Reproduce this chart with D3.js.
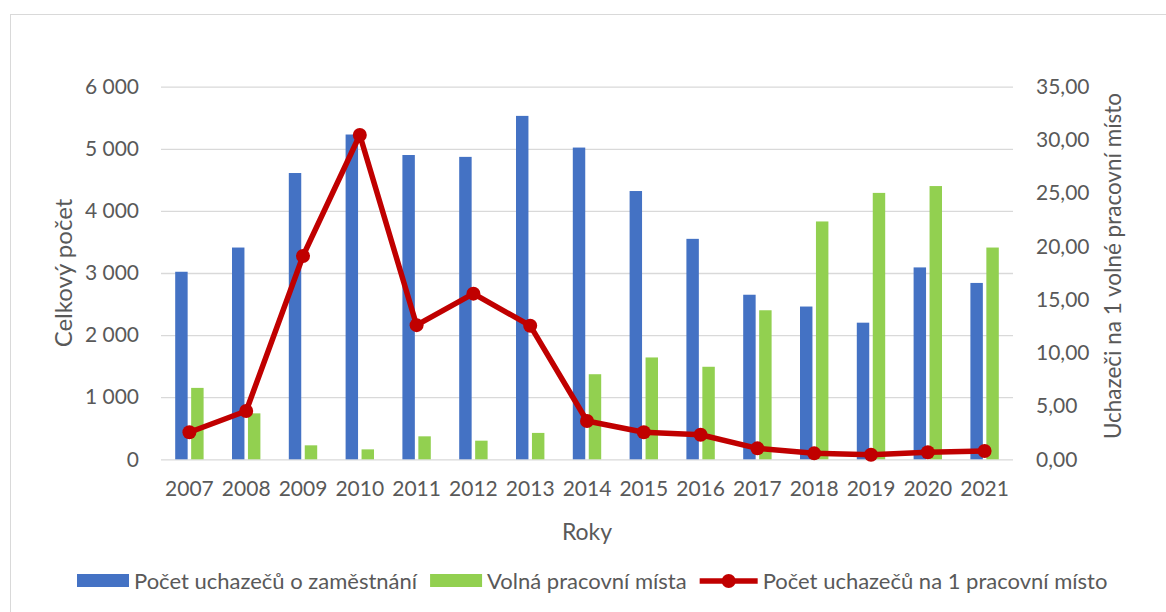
<!DOCTYPE html>
<html>
<head>
<meta charset="utf-8">
<script src="https://cdn.jsdelivr.net/npm/d3@7"></script>
<style>
  html, body { margin: 0; padding: 0; background: #fff; }
  svg { display: block; font-family: Lato, "Open Sans", sans-serif; }
  .tick text { fill: #595959; }
</style>
</head>
<body>
<svg id="chart" width="1166" height="612"></svg>
<script>
const years = ['2007', '2008', '2009', '2010', '2011', '2012', '2013', '2014', '2015', '2016', '2017', '2018', '2019', '2020', '2021'];
const applicants = [3020, 3410, 4610, 5230, 4900, 4870, 5530, 5020, 4320, 3550, 2650, 2460, 2200, 3090, 2840];
const vacancies = [1150, 740, 225, 160, 370, 300, 425, 1370, 1640, 1490, 2400, 3830, 4290, 4400, 3410];
const ratio = [2.54, 4.54, 19.1, 30.46, 12.6, 15.56, 12.55, 3.6, 2.54, 2.31, 1.03, 0.56, 0.43, 0.66, 0.78];
const leftTicks = [0, 1000, 2000, 3000, 4000, 5000, 6000];
const rightTicks = [0, 5, 10, 15, 20, 25, 30, 35];

const seriesNames = ['Počet uchazečů o zaměstnání', 'Volná pracovní místa', 'Počet uchazečů na 1 pracovní místo'];
const COLORS = { blue: '#4472C4', green: '#92D050', red: '#C00000', grid: '#D9D9D9', text: '#595959' };
const PLOT = { left: 161, right: 1013, top: 86.7, bottom: 459.3 };

const cz = d3.formatLocale({ decimal: ',', thousands: '\u00a0', grouping: [3], currency: ['', ''] });
const fmtLeft = cz.format(',');
const fmtRight = cz.format('.2f');

const svg = d3.select('#chart');

// outer chart border (runs off the right and bottom edge)
svg.append('rect')
  .attr('x', 10.5).attr('y', 14.5)
  .attr('width', 1170).attr('height', 620)
  .attr('fill', 'none').attr('stroke', COLORS.grid).attr('stroke-width', 1);

const x = d3.scaleBand().domain(years).range([PLOT.left, PLOT.right]).paddingInner(0).paddingOuter(0);
const bw = x.bandwidth();
const x1 = d3.scaleBand().domain(['a', 'v']).range([bw * 0.25, bw * 0.75]).paddingInner(0.22);
const yL = d3.scaleLinear().domain([0, 6000]).range([PLOT.bottom, PLOT.top]);
const yR = d3.scaleLinear().domain([0, 35]).range([PLOT.bottom, PLOT.top]);

// grid
svg.append('g')
  .attr('transform', `translate(${PLOT.left},0)`)
  .call(d3.axisLeft(yL).tickValues(leftTicks).tickSize(-(PLOT.right - PLOT.left)).tickFormat(() => ''))
  .call(g => g.select('.domain').remove())
  .selectAll('line').attr('stroke', COLORS.grid).attr('stroke-width', 1.3);

// left axis
svg.append('g')
  .attr('transform', `translate(${PLOT.left - 22},0)`)
  .call(d3.axisLeft(yL).tickValues(leftTicks).tickSize(0).tickPadding(0).tickFormat(fmtLeft))
  .call(g => g.select('.domain').remove())
  .selectAll('text').attr('font-size', 21).attr('font-family', 'Lato');

// right axis
svg.append('g')
  .attr('transform', `translate(${PLOT.right + 23},0)`)
  .call(d3.axisRight(yR).tickValues(rightTicks).tickSize(0).tickPadding(0).tickFormat(fmtRight))
  .call(g => g.select('.domain').remove())
  .selectAll('text').attr('font-size', 21).attr('font-family', 'Lato');

// bottom axis
svg.append('g')
  .attr('transform', `translate(0,${PLOT.bottom})`)
  .call(d3.axisBottom(x).tickSize(0).tickPadding(22))
  .call(g => g.select('.domain').remove())
  .selectAll('text').attr('font-size', 21).attr('font-family', 'Lato');

// bars
const rows = years.map((yr, i) => ({ yr, a: applicants[i], v: vacancies[i] }));
const groups = svg.append('g').selectAll('g').data(rows).join('g')
  .attr('transform', d => `translate(${x(d.yr)},0)`);
groups.append('rect')
  .attr('x', x1('a')).attr('width', x1.bandwidth())
  .attr('y', d => yL(d.a)).attr('height', d => yL(0) - yL(d.a))
  .attr('fill', COLORS.blue);
groups.append('rect')
  .attr('x', x1('v')).attr('width', x1.bandwidth())
  .attr('y', d => yL(d.v)).attr('height', d => yL(0) - yL(d.v))
  .attr('fill', COLORS.green);

// ratio line
const pts = years.map((yr, i) => ({ yr, r: ratio[i] }));
const line = d3.line().x(d => x(d.yr) + bw / 2).y(d => yR(d.r));
svg.append('path')
  .datum(pts)
  .attr('d', line)
  .attr('fill', 'none')
  .attr('stroke', COLORS.red)
  .attr('stroke-width', 5.5)
  .attr('stroke-linejoin', 'round');
svg.append('g').selectAll('circle').data(pts).join('circle')
  .attr('cx', d => x(d.yr) + bw / 2)
  .attr('cy', d => yR(d.r))
  .attr('r', 7)
  .attr('fill', COLORS.red);

// axis titles
svg.append('text')
  .attr('transform', 'translate(72,273) rotate(-90)')
  .attr('text-anchor', 'middle')
  .attr('font-size', 24).attr('fill', COLORS.text)
  .text('Celkový počet');
svg.append('text')
  .attr('transform', 'translate(1121,266) rotate(-90)')
  .attr('text-anchor', 'middle')
  .attr('font-size', 22.5).attr('fill', COLORS.text)
  .text('Uchazeči na 1 volné pracovní místo');
svg.append('text')
  .attr('x', 587).attr('y', 540)
  .attr('text-anchor', 'middle')
  .attr('font-size', 23).attr('fill', COLORS.text)
  .text('Roky');

// legend
const legend = svg.append('g').attr('transform', 'translate(0,581)');
const legendItems = [
  { name: seriesNames[0], kind: 'bar', color: COLORS.blue },
  { name: seriesNames[1], kind: 'bar', color: COLORS.green },
  { name: seriesNames[2], kind: 'line', color: COLORS.red },
];
let lx = 77;
legendItems.forEach(item => {
  const g = legend.append('g').attr('transform', `translate(${lx},0)`);
  if (item.kind === 'bar') {
    g.append('rect').attr('x', 0).attr('y', -7).attr('width', 52).attr('height', 13).attr('fill', item.color);
  } else {
    g.append('line').attr('x1', 0).attr('x2', 58).attr('y1', 0).attr('y2', 0)
      .attr('stroke', item.color).attr('stroke-width', 5.5);
    g.append('circle').attr('cx', 29).attr('cy', 0).attr('r', 7).attr('fill', item.color);
  }
  const sw = item.kind === 'bar' ? 52 : 58;
  const t = g.append('text')
    .attr('x', sw + 5).attr('y', 0).attr('dy', '0.35em')
    .attr('font-size', 22).attr('fill', COLORS.text)
    .text(item.name);
  lx += sw + 5 + t.node().getComputedTextLength() + 13;
});
</script>
</body>
</html>
